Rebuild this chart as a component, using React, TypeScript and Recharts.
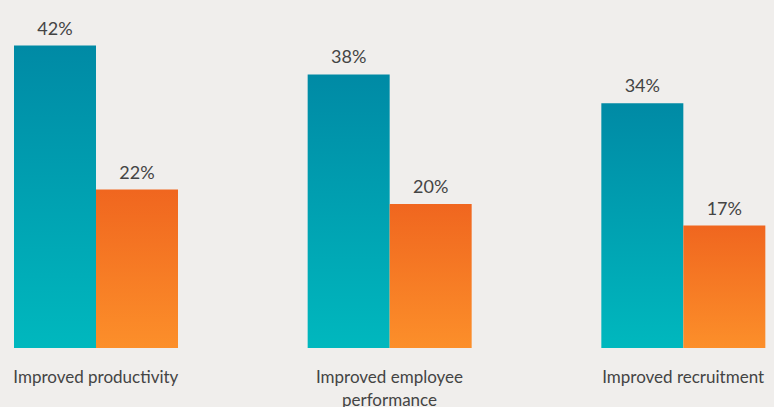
import React from 'react';
import { BarChart, Bar, XAxis, YAxis, LabelList, Text } from 'recharts';

const categories = ['Improved productivity', 'Improved employee performance', 'Improved recruitment'];
const tealValues = [42, 38, 34];
const orangeValues = [22, 20, 17];

const data = categories.map((name, i) => ({
  name,
  teal: tealValues[i],
  orange: orangeValues[i],
}));

const FONT = 'Lato, "Open Sans", sans-serif';
const TEXT = '#444444';

function CategoryTick(props: any) {
  const { x, y, payload } = props;
  return (
    <Text
      x={x}
      y={y + 15}
      width={210}
      textAnchor="middle"
      verticalAnchor="start"
      fontSize={17}
      fontFamily={FONT}
      fill={TEXT}
      lineHeight={23}
    >
      {payload.value}
    </Text>
  );
}

export default function App() {
  return (
    <div
      style={{
        position: 'absolute',
        left: 0,
        top: 0,
        width: 774,
        height: 407,
        overflow: 'hidden',
        background: '#f0eeec',
      }}
    >
      <div style={{ marginLeft: -51 }}>
        <BarChart
          width={881}
          height={407}
          data={data}
          margin={{ top: 24, right: 0, left: 0, bottom: 0 }}
          barGap={0}
          barSize={82}
        >
          <defs>
            <linearGradient id="tealGrad" x1="0" y1="0" x2="0" y2="1">
              <stop offset="0%" stopColor="#008aa5" />
              <stop offset="100%" stopColor="#00b8be" />
            </linearGradient>
            <linearGradient id="orangeGrad" x1="0" y1="0" x2="0" y2="1">
              <stop offset="0%" stopColor="#f0661f" />
              <stop offset="100%" stopColor="#fc8f2a" />
            </linearGradient>
          </defs>
          <XAxis
            dataKey="name"
            axisLine={false}
            tickLine={false}
            height={59}
            interval={0}
            tick={<CategoryTick />}
          />
          <YAxis hide domain={[0, 45]} />
          <Bar dataKey="teal" fill="url(#tealGrad)" isAnimationActive={false}>
            <LabelList
              dataKey="teal"
              position="top"
              offset={11}
              formatter={(v: any) => `${v}%`}
              style={{ fontSize: 18, fontFamily: FONT, fill: TEXT }}
            />
          </Bar>
          <Bar dataKey="orange" fill="url(#orangeGrad)" isAnimationActive={false}>
            <LabelList
              dataKey="orange"
              position="top"
              offset={11}
              formatter={(v: any) => `${v}%`}
              style={{ fontSize: 18, fontFamily: FONT, fill: TEXT }}
            />
          </Bar>
        </BarChart>
      </div>
    </div>
  );
}
